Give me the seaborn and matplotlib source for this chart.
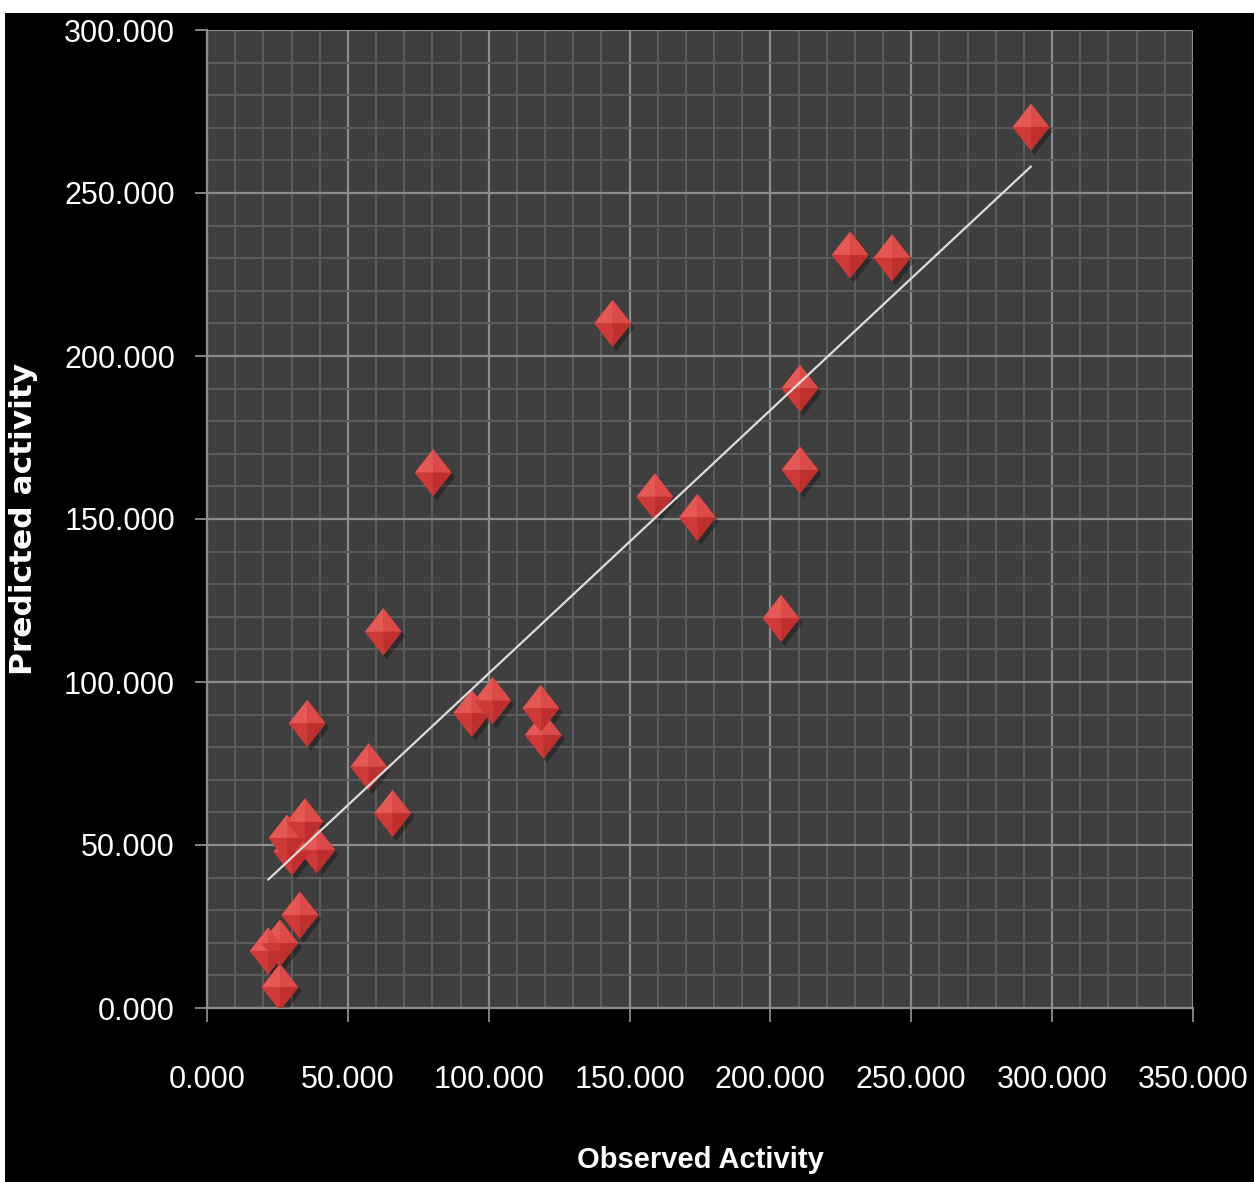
import numpy as np
import pandas as pd
import matplotlib
matplotlib.use("Agg")
import matplotlib.pyplot as plt
import seaborn as sns
from matplotlib.path import Path
from matplotlib.patches import Rectangle
from matplotlib.ticker import MultipleLocator, FormatStrFormatter
import matplotlib.patheffects as pe
from matplotlib import font_manager as fm

# ---- data ----
observed = [292.5, 228.3, 243.2, 144.0, 210.5, 80.3, 210.5, 159.0, 174.1, 203.8,
            62.6, 35.6, 101.4, 94.0, 118.5, 119.4, 57.4, 65.9, 34.8, 28.4,
            39.0, 30.2, 33.0, 25.9, 21.7, 25.9]
predicted = [270.2, 231.0, 230.1, 210.0, 190.1, 164.2, 165.0, 156.8, 150.5, 119.5,
             115.4, 87.3, 94.3, 90.4, 91.9, 83.7, 74.0, 59.7, 57.1, 52.1,
             48.5, 47.9, 28.5, 19.9, 17.5, 6.4]
x_label = "Observed Activity"
y_label = "Predicted activity"
x_ticks = [0, 50, 100, 150, 200, 250, 300, 350]
y_ticks = [0, 50, 100, 150, 200, 250, 300]

df = pd.DataFrame({"obs": observed, "pred": predicted})

sns.set_theme(style="dark")
installed = {f.name for f in fm.fontManager.ttflist}
if "Liberation Sans Narrow" in installed:
    narrow, tick_size, xlab_size = "Liberation Sans Narrow", 27, 25
else:
    narrow, tick_size, xlab_size = "Liberation Sans", 22, 21
plt.rcParams["font.family"] = [narrow, "DejaVu Sans"]

W, H = 1254, 1182
fig = plt.figure(figsize=(W / 100, H / 100), dpi=100, facecolor="black")
# white strips of the original screenshot
fig.patches.append(Rectangle((0, 1 - 13 / H), 1, 13 / H, transform=fig.transFigure,
                             facecolor="white", edgecolor="none", zorder=-10))
fig.patches.append(Rectangle((0, 0), 5 / W, 1, transform=fig.transFigure,
                             facecolor="white", edgecolor="none", zorder=-10))

left, right, top, bottom = 207, 1193, 30, 1008
ax = fig.add_axes([left / W, 1 - bottom / H, (right - left) / W, (bottom - top) / H])
ax.set_facecolor("#3f3f3f")

# diamond marker facets
wx = 0.78
full = Path([(0, 1), (wx, 0), (0, -1), (-wx, 0), (0, 1)], closed=True)
tl = Path([(0, 0), (-wx, 0), (0, 1), (0, 0)], closed=True)
tr = Path([(0, 0), (0, 1), (wx, 0), (0, 0)], closed=True)
bl = Path([(0, 0), (-wx, 0), (0, -1), (0, 0)], closed=True)
br = Path([(0, 0), (0, -1), (wx, 0), (0, 0)], closed=True)

S = 1150
sns.scatterplot(data=df, x="obs", y="pred", marker=full, s=S, color="#cf3a38",
                edgecolor="none", linewidth=0, ax=ax, legend=False, zorder=3)
ax.collections[-1].set_path_effects([
    pe.SimplePatchShadow(offset=(2.5, -3), shadow_rgbFace="black", alpha=0.3),
    pe.Normal()])
for pth, col in [(tl, "#e45956"), (tr, "#dc4b48"), (bl, "#cd3a38"), (br, "#bd302e")]:
    sns.scatterplot(data=df, x="obs", y="pred", marker=pth, s=S, color=col,
                    edgecolor="none", linewidth=0, ax=ax, legend=False, zorder=3)

# linear trend line
sns.regplot(data=df, x="obs", y="pred", scatter=False, ci=None, truncate=True,
            ax=ax, line_kws=dict(color="#dcdcdc", lw=1.6, zorder=5))

ax.set_xlim(0, 350)
ax.set_ylim(0, 300)
ax.set_xticks(x_ticks)
ax.set_yticks(y_ticks)
ax.xaxis.set_minor_locator(MultipleLocator(10))
ax.yaxis.set_minor_locator(MultipleLocator(10))
ax.xaxis.set_major_formatter(FormatStrFormatter("%.3f"))
ax.yaxis.set_major_formatter(FormatStrFormatter("%.3f"))

ax.grid(True, which="minor", color="#5c5c5c", lw=1.4, zorder=0)
ax.grid(True, which="major", color="#8c8c8c", lw=1.6, zorder=0)
ax.set_axisbelow(True)

for side in ["top", "right"]:
    ax.spines[side].set_visible(False)
for side in ["left", "bottom"]:
    ax.spines[side].set_visible(True)
    ax.spines[side].set_color("#8c8c8c")
    ax.spines[side].set_linewidth(1.6)

ax.tick_params(axis="x", which="major", direction="out", length=10, width=1.3,
               color="#8c8c8c", labelcolor="white", labelsize=tick_size, pad=31, bottom=True)
ax.tick_params(axis="y", which="major", direction="out", length=9, width=1.3,
               color="#8c8c8c", labelcolor="white", labelsize=tick_size, pad=14, left=True)
ax.tick_params(which="minor", length=0)

ax.set_xlabel(x_label, color="white", fontsize=xlab_size, fontweight="bold",
              family=[narrow, "DejaVu Sans"])
ax.set_ylabel(y_label, color="white", fontsize=22.5, fontweight="bold",
              family=["DejaVu Sans"])
ax.xaxis.set_label_coords(0.5, (bottom - 1146) / (bottom - top))
ax.yaxis.set_label_coords((38 - left) / (right - left), 0.5)

fig.savefig("out.png", dpi=100, facecolor=fig.get_facecolor())
